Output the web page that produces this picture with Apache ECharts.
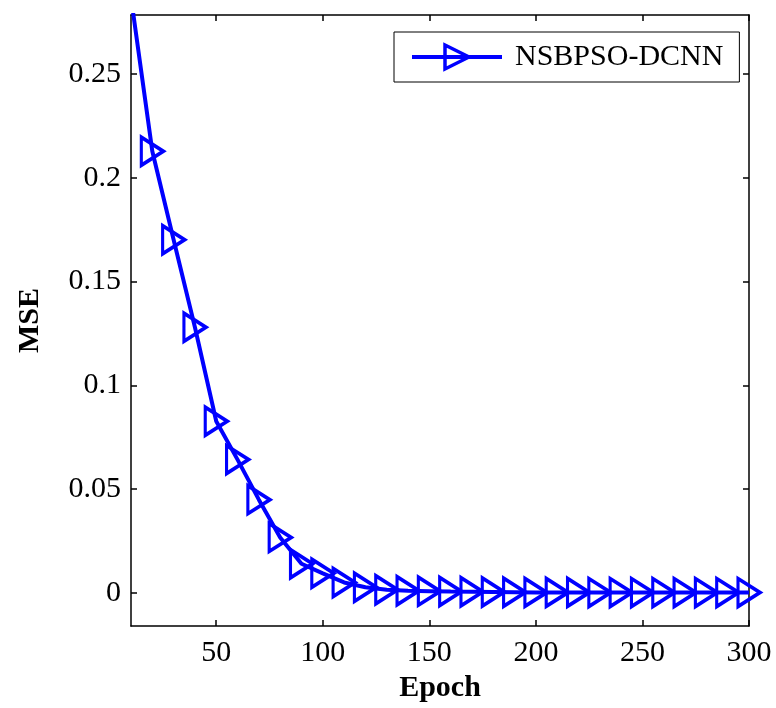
<!DOCTYPE html>
<html>
<head>
<meta charset="utf-8">
<script src="https://cdn.jsdelivr.net/npm/echarts@6/dist/echarts.min.js"></script>
<style>
html,body{margin:0;padding:0;background:#fff;}
#chart{width:776px;height:708px;}
</style>
</head>
<body>
<div id="chart"></div>
<script>
// Data
const epochs = [10,20,30,40,50,60,70,80,90,100,110,120,130,140,150,160,170,180,190,200,210,220,230,240,250,260,270,280,290,300];
const mse = [0.287,0.2128,0.1702,0.128,0.0827,0.0642,0.0449,0.0267,0.014,0.0094,0.005,0.0027,0.0015,0.001,0.0008,0.0006,0.0005,0.0004,0.0003,0.0002,0.0002,0.0002,0.0001,0.0001,0.0001,0.0001,0.0001,0.0001,0.0001,0.0001];
const seriesName = 'NSBPSO-DCNN';
const xTicks = [50,100,150,200,250,300];
const yTicks = [0,0.05,0.1,0.15,0.2,0.25];
const xRange = [10,300];
const yRange = [-0.016,0.2785];

const FONT = 'Liberation Serif';
const chart = echarts.init(document.getElementById('chart'));
const axisLine = {show:true, onZero:false, lineStyle:{color:'#000', width:1.5}};
const tickIn = (vals) => ({show:true, inside:true, length:6, customValues:vals, lineStyle:{color:'#000', width:1.5}});

chart.setOption({
  animation:false,
  backgroundColor:'#fff',
  grid:{left:131, right:27, top:15, bottom:82, containLabel:false},
  legend:{
    show:true,
    left:394, top:32,
    padding:[10,16,10,16],
    borderColor:'#000', borderWidth:1, backgroundColor:'#fff',
    itemWidth:90, itemHeight:30,
    lineStyle:{width:4},
    itemStyle:{borderWidth:3.5},
    textStyle:{fontFamily:FONT, fontSize:30, color:'#000', padding:[0,0,0,8]},
    data:[seriesName]
  },
  xAxis:[{
    type:'value', min:xRange[0], max:xRange[1],
    name:'Epoch', nameLocation:'middle', nameGap:46,
    nameTextStyle:{fontFamily:FONT, fontSize:30, fontWeight:'bold', color:'#000'},
    axisLine:axisLine, axisTick:tickIn(xTicks),
    axisLabel:{show:true, customValues:xTicks, margin:12, fontFamily:FONT, fontSize:30, color:'#000'},
    splitLine:{show:false}
  },{
    type:'value', position:'top', min:xRange[0], max:xRange[1],
    axisLine:axisLine, axisTick:tickIn(xTicks),
    axisLabel:{show:false}, splitLine:{show:false}
  }],
  yAxis:[{
    type:'value', min:yRange[0], max:yRange[1],
    name:'MSE', nameLocation:'middle', nameGap:86,
    nameTextStyle:{fontFamily:FONT, fontSize:30, fontWeight:'bold', color:'#000'},
    axisLine:axisLine, axisTick:tickIn(yTicks),
    axisLabel:{show:true, customValues:yTicks, margin:10, fontFamily:FONT, fontSize:30, color:'#000'},
    splitLine:{show:false}
  },{
    type:'value', position:'right', min:yRange[0], max:yRange[1],
    axisLine:axisLine, axisTick:tickIn(yTicks),
    axisLabel:{show:false}, splitLine:{show:false}
  }],
  series:[{
    name:seriesName,
    type:'line',
    data:epochs.map((e,i)=>[e,mse[i]]),
    clip:true,
    symbol:'triangle',
    symbolRotate:-90,
    symbolSize:[28,22],
    showAllSymbol:true,
    lineStyle:{color:'#0000ff', width:4},
    itemStyle:{color:'rgba(0,0,0,0)', borderColor:'#0000ff', borderWidth:3.5},
    emphasis:{disabled:true}
  }]
});
</script>
</body>
</html>
